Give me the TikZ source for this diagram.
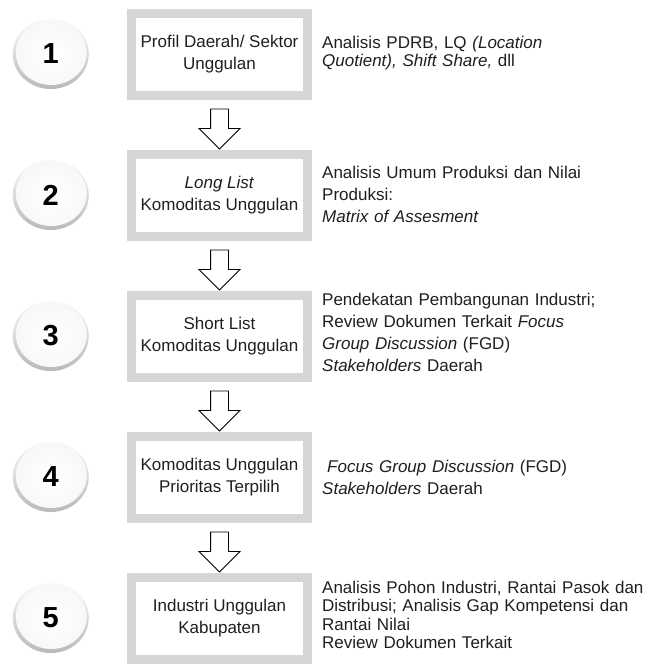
\documentclass[tikz,border=0pt]{standalone}
\usepackage{fontspec}
\setmainfont{Liberation Sans}
\usetikzlibrary{positioning, shapes, calc}
\definecolor{boxgray}{RGB}{214,214,214}
\definecolor{ringgray}{RGB}{185,185,185}

\begin{document}
\begin{tikzpicture}[
   x=1pt, y=1pt,
   every node/.style   = {font=\fontsize{17}{22}\selectfont, text=black!88},
    node distance        = 50pt and 38pt,
         stepBox/.style  = {rectangle, draw=boxgray, line width=9pt, minimum width=176pt, minimum height=82pt, align=center, inner sep=0pt},
         numCircle/.style = {ellipse, minimum width=76pt, minimum height=70pt, inner sep=0pt, top color=gray!4, bottom color=ringgray,
                             font=\fontsize{29}{32}\selectfont\bfseries, text=black,
                             path picture={\shade[inner color=white, outer color=gray!6] ($(path picture bounding box.center)+(0.5,1.5)$) ellipse [x radius=35.5, y radius=32.5];}},
         descText/.style = {anchor=base west, align=left, inner sep=0pt, text width=325pt},
         tightText/.style = {font=\fontsize{17}{18.5}\selectfont},
         downArrow/.style = {single arrow, draw=black, line width=0.8pt, fill=white, rotate=-90, minimum height=40pt,
                             inner xsep=0pt, inner ysep=8.5pt, single arrow head extend=11.5pt}
]

\useasboundingbox (0,0) rectangle (647,-665);

\node[stepBox] (profil) at (219.5,-54) {Profil Daerah/ Sektor\\Unggulan};
\node[stepBox, below=of profil] (longlist) {\textit{Long List}\\Komoditas Unggulan};
\node[stepBox, below=of longlist] (shortlist) {Short List\\Komoditas Unggulan};
\node[stepBox, below=of shortlist] (prioritas) {Komoditas Unggulan\\Prioritas Terpilih};
\node[stepBox, below=of prioritas] (industri) {Industri Unggulan\\Kabupaten};

    \node[numCircle, left=of profil] (one) {1};
    \node[numCircle, left=of longlist] (two) {2};
    \node[numCircle, left=of shortlist] (three) {3};
    \node[numCircle, left=of prioritas] (four) {4};
    \node[numCircle, left=of industri] (five) {5};

\node[downArrow] (arrowA) at ($(profil.south)!0.5!(longlist.north)$) {};
\node[downArrow] (arrowB) at ($(longlist.south)!0.5!(shortlist.north)$) {};
\node[downArrow] (arrowC) at ($(shortlist.south)!0.5!(prioritas.north)$) {};
\node[downArrow] (arrowD) at ($(prioritas.south)!0.5!(industri.north)$) {};

    \node[descText, tightText] (dprofil) at ($(profil.east)+(10,6)$)
        {Analisis PDRB, LQ \textit{(Location\\Quotient), Shift Share,} dll};
    \node[descText] (dlonglist) at ($(longlist.east)+(10,17)$)
        {Analisis Umum Produksi dan Nilai\\Produksi:\\\textit{Matrix of Assesment}};
    \node[descText] (dshortlist) at ($(shortlist.east)+(10,30.5)$)
        {Pendekatan Pembangunan Industri;\\Review Dokumen Terkait \textit{Focus}\\\textit{Group Discussion} (FGD)\\\textit{Stakeholders} Daerah};
    \node[descText] (dprioritas) at ($(prioritas.east)+(10,5)$)
        {\hspace*{5pt}\textit{Focus Group Discussion} (FGD)\\\textit{Stakeholders} Daerah};
    \node[descText, tightText] (dindustri) at ($(industri.east)+(10,25)$)
        {Analisis Pohon Industri, Rantai Pasok dan\\Distribusi; Analisis Gap Kompetensi dan\\Rantai Nilai\\Review Dokumen Terkait};

\end{tikzpicture}
\end{document}
